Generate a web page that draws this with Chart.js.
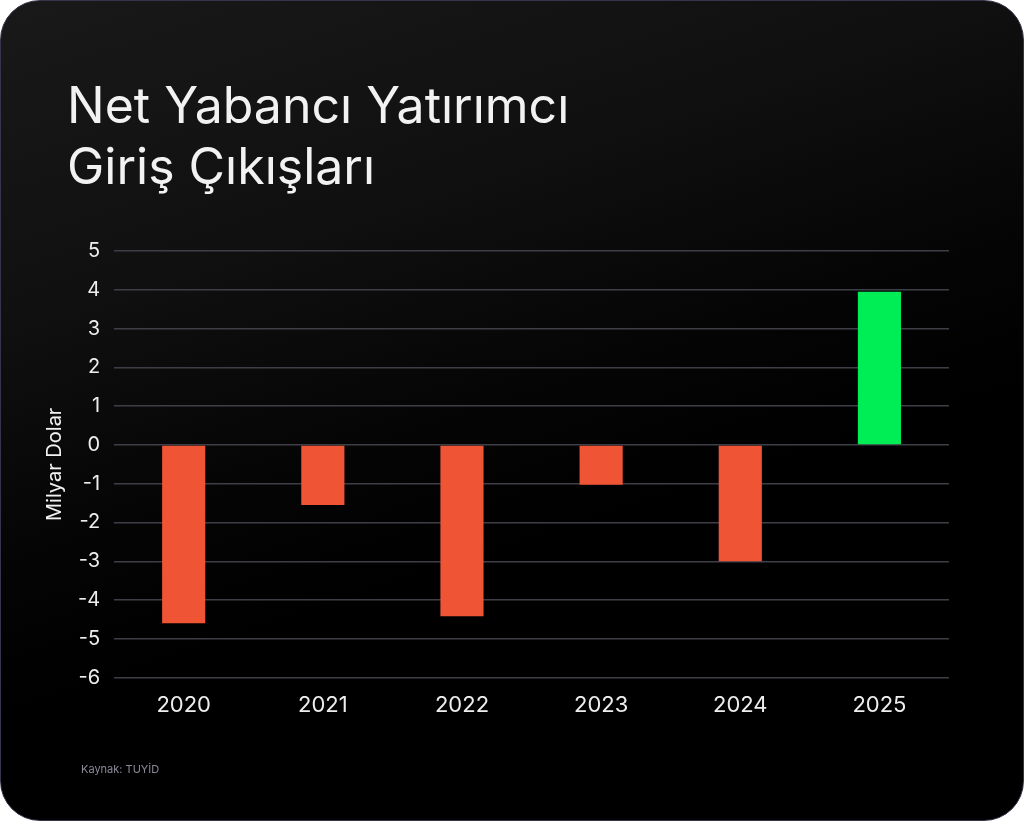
<!DOCTYPE html>
<html>
<head>
<meta charset="utf-8">
<script src="https://cdn.jsdelivr.net/npm/chart.js@4"></script>
<style>
    html, body {
        margin: 0;
        padding: 0;
        background: #ffffff;
    }
    #card {
        position: relative;
        width: 1022px;
        height: 819px;
        border: 1px solid #34344a;
        border-radius: 40px;
        overflow: hidden;
        background: linear-gradient(162deg, #191919 0%, #101010 28%, #050505 48%, #000000 62%);
        font-family: Inter, "Noto Sans", sans-serif;
    }
    #title {
        position: absolute;
        left: 66px;
        top: 74px;
        margin: 0;
        color: #f2f2f2;
        font-size: 50px;
        font-weight: 400;
        line-height: 61px;
        letter-spacing: 0;
    }
    #source {
        position: absolute;
        left: 80px;
        top: 761px;
        color: #8a8a9a;
        font-size: 11px;
    }
    #chartBox {
        position: absolute;
        left: 0;
        top: 0;
        width: 1022px;
        height: 819px;
    }
</style>
</head>
<body>
<div id="card">
    <h1 id="title">Net Yabancı Yatırımcı<br>Giriş Çıkışları</h1>
    <div id="chartBox"><canvas id="myChart"></canvas></div>
    <div id="source">Kaynak: TUYİD</div>
</div>
<script>
const years = ["2020", "2021", "2022", "2023", "2024", "2025"];
const flows = [-4.6, -1.55, -4.42, -1.03, -3.0, 3.95];
const yTicks = [5, 4, 3, 2, 1, 0, -1, -2, -3, -4, -5, -6];

const red = "#ef5535";
const green = "#00ee55";

var ctx = document.getElementById("myChart").getContext("2d");
var chart = new Chart(ctx, {
    type: "bar",
    data: {
        labels: years,
        datasets: [{
            label: "Milyar Dolar",
            data: flows,
            backgroundColor: flows.map(v => v < 0 ? red : green),
            borderWidth: 0,
            barPercentage: 0.31,
            categoryPercentage: 1
        }]
    },
    options: {
        responsive: true,
        maintainAspectRatio: false,
        animation: false,
        layout: {
            padding: { left: 42, right: 74, top: 250, bottom: 94 }
        },
        plugins: {
            legend: { display: false },
            tooltip: { enabled: false }
        },
        scales: {
            x: {
                grid: { display: false },
                border: { display: false },
                ticks: {
                    color: "#eeeeee",
                    font: { family: "Inter", size: 22 },
                    padding: 7
                }
            },
            y: {
                min: -6,
                max: 5,
                afterBuildTicks: axis => {
                    axis.ticks = yTicks.map(v => ({ value: v }));
                },
                grid: {
                    color: "#3e3e48",
                    lineWidth: 1.5,
                    drawTicks: false
                },
                border: { display: false },
                ticks: {
                    color: "#eeeeee",
                    font: { family: "Inter", size: 20 },
                    padding: 14
                },
                title: {
                    display: true,
                    text: "Milyar Dolar",
                    color: "#f2f2f2",
                    font: { family: "Inter", size: 20 },
                    padding: { top: 0, bottom: -3 }
                }
            }
        }
    }
});
</script>
</body>
</html>
